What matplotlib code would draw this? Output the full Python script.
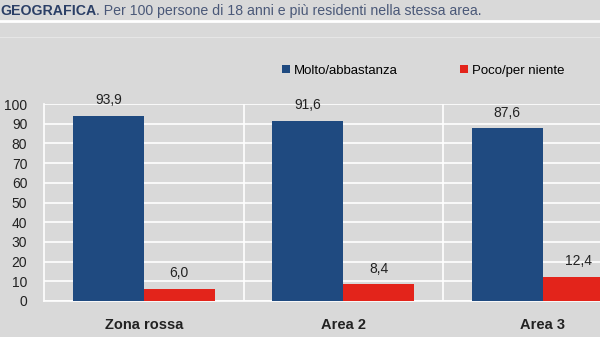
import matplotlib.pyplot as plt
import numpy as np

plt.rcParams['font.family'] = ['Liberation Sans', 'DejaVu Sans']

# dati
categorie = ['Zona rossa', 'Area 2', 'Area 3']
molto = [93.9, 91.6, 87.6]
poco = [6.0, 8.4, 12.4]
serie = ['Molto/abbastanza', 'Poco/per niente']
yticks = list(range(0, 101, 10))

sfondo = '#d9d9d9'
blu = '#1f4a80'
rosso = '#e3241b'

fig = plt.figure(figsize=(6, 3.37), dpi=100)
fig.patch.set_facecolor(sfondo)

# titolo (riga tagliata in alto)
t1 = fig.text(0.0, 0.968, 'GEOGRAFICA', fontsize=10.2, fontweight='bold', color='#2b3f66',
              va='center', ha='left')
fig.add_artist(plt.Annotation('. Per 100 persone di 18 anni e più residenti nella stessa area.',
                              xy=(1, 0.5), xycoords=t1, va='center', ha='left',
                              fontsize=10.2, color='#4a5878'))
fig.add_artist(plt.Line2D([0, 1], [0.937, 0.937], color='white', lw=2))
fig.add_artist(plt.Line2D([0, 1], [0.89, 0.89], color='#e6e6e6', lw=0.8))

ax = fig.add_axes([44 / 600, 36 / 337, 598.5 / 600, 197 / 337])
ax.set_facecolor(sfondo)

x = np.arange(len(categorie))
w = 0.355
b1 = ax.bar(x - w / 2, molto, w, color=blu, label=serie[0], zorder=3)
b2 = ax.bar(x + w / 2, poco, w, color=rosso, label=serie[1], zorder=3)

for rects, vals in ((b1, molto), (b2, poco)):
    for r, v in zip(rects, vals):
        ax.text(r.get_x() + r.get_width() / 2, v + 4.5, f'{v:.1f}'.replace('.', ','),
                ha='center', va='bottom', fontsize=10, color='#222222', clip_on=False)

ax.set_xlim(-0.5, 2.5)
ax.set_ylim(0, 100)
ax.set_yticks(yticks)
ax.set_yticklabels([str(t) for t in yticks], fontsize=10, color='#222222')
ax.tick_params(axis='y', length=0, pad=12)
ax.yaxis.grid(True, color='white', lw=1.2, zorder=1)

# separatori tra le categorie
for s in [0.5, 1.5]:
    ax.axvline(s, color='white', lw=1.2, zorder=1)

ax.set_xticks(x)
ax.set_xticklabels(categorie, fontsize=10.5, fontweight='bold', color='#222222')
ax.tick_params(axis='x', length=0, pad=12)

for sp in ['top', 'right']:
    ax.spines[sp].set_visible(False)
ax.spines['left'].set_color('white')
ax.spines['bottom'].set_color('white')
ax.spines['left'].set_linewidth(1.2)
ax.spines['bottom'].set_linewidth(1.2)

fig.legend(handles=[b1, b2], labels=serie, loc='center', bbox_to_anchor=(0.705, 0.79),
           ncol=2, frameon=False, fontsize=9.5, handlelength=0.6, handleheight=0.6,
           handletextpad=0.3, columnspacing=4.7)

fig.savefig('out.png', dpi=100, facecolor=sfondo)
